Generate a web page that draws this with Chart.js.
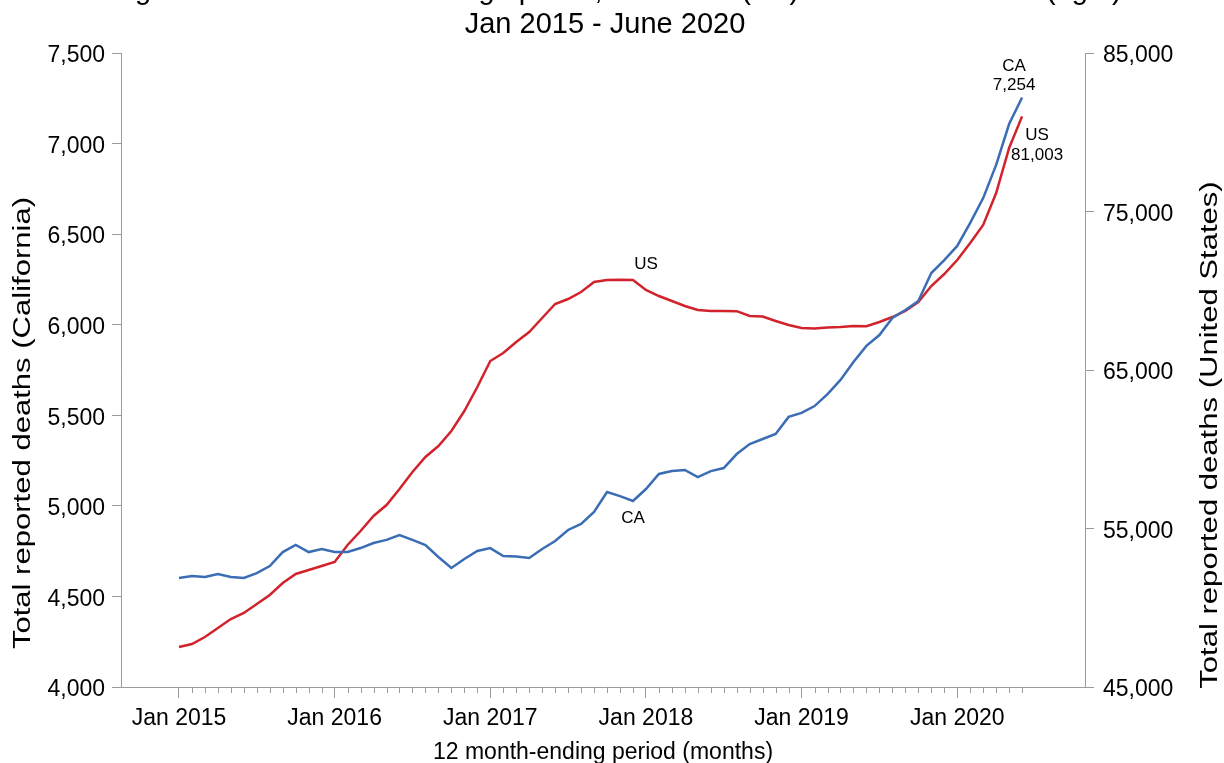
<!DOCTYPE html>
<html>
<head>
<meta charset="utf-8">
<script src="https://cdn.jsdelivr.net/npm/chart.js@4.4.0/dist/chart.umd.min.js"></script>
<style>
  html, body { margin: 0; padding: 0; background: #fff; }
  #wrap { width: 1224px; height: 763px; position: relative; }
</style>
</head>
<body>
<div id="wrap"><canvas id="chart"></canvas></div>
<script>
// 12 month-ending periods, Jan 2015 .. Jun 2020
const monthNames = ['Jan', 'Feb', 'Mar', 'Apr', 'May', 'Jun', 'Jul', 'Aug', 'Sep', 'Oct', 'Nov', 'Dec'];
const years = [2015, 2016, 2017, 2018, 2019, 2020];
const months = [];
years.forEach(y => monthNames.forEach(m => months.push(m + ' ' + y)));
months.length = 66;

const xTickLabels = ['Jan 2015', 'Jan 2016', 'Jan 2017', 'Jan 2018', 'Jan 2019', 'Jan 2020'];

const caDeaths = [
  4602, 4613, 4607, 4624, 4607, 4602, 4629, 4668, 4745, 4784, 4745, 4762,
  4745, 4745, 4767, 4795, 4812, 4839, 4812, 4784, 4718, 4657, 4707, 4751,
  4767, 4723, 4720, 4712, 4762, 4806, 4867, 4900, 4966, 5076, 5054, 5027,
  5093, 5176, 5192, 5198, 5159, 5192, 5209, 5286, 5341, 5369, 5397, 5491,
  5513, 5551, 5617, 5695, 5794, 5883, 5943, 6037, 6081, 6131, 6285, 6357,
  6435, 6562, 6699, 6882, 7108, 7254
];
const usDeaths = [
  47524, 47713, 48155, 48722, 49290, 49669, 50236, 50804, 51561, 52129, 52382, 52634,
  52886, 53959, 54842, 55788, 56482, 57492, 58564, 59511, 60205, 61151, 62413, 63927,
  65567, 66072, 66766, 67397, 68280, 69163, 69479, 69921, 70551, 70678, 70700, 70680,
  70047, 69668, 69353, 69037, 68785, 68722, 68722, 68710, 68406, 68375, 68091, 67839,
  67649, 67617, 67680, 67712, 67775, 67760, 68028, 68343, 68722, 69290, 70299, 71056,
  71939, 73012, 74148, 76166, 79006, 81003
];

const titleLines = [
  'Drug overdose deaths involving opioids, California (left) and United States (right)',
  'Jan 2015 - June 2020'
];
const yTitleCA = 'Total reported deaths (California)';
const yTitleUS = 'Total reported deaths (United States)';

const FONT = '"Liberation Sans", Arial, Helvetica, sans-serif';
const AXIS = '#9b9b9b';
const BLUE = '#3b6db5';
const RED = '#d2232c';

const toPoints = arr => arr.map((v, i) => ({ x: i, y: v }));
const fmt = v => v.toLocaleString('en-US');

// rotated axis title, stretched along its length like the original
function sideTitle(ctx, text, cx, cy, rot) {
  ctx.save();
  ctx.translate(cx, cy);
  ctx.rotate(rot);
  ctx.scale(1.35, 1);
  ctx.textAlign = 'center';
  ctx.textBaseline = 'middle';
  ctx.fillText(text, 0, 0);
  ctx.restore();
}

// title, minor month ticks, side titles and the in-chart labels
const extras = {
  id: 'extras',
  afterDraw(chart) {
    const { ctx, chartArea, scales: { x, yCA, yUS } } = chart;
    ctx.save();

    ctx.fillStyle = '#000';
    ctx.textAlign = 'center';
    ctx.textBaseline = 'alphabetic';
    ctx.font = '29px ' + FONT;
    ctx.fillText(titleLines[0], 605, -1);
    ctx.fillText(titleLines[1], 605, 33);

    ctx.font = '23px ' + FONT;
    const midY = (chartArea.top + chartArea.bottom) / 2;
    sideTitle(ctx, yTitleCA, 24, midY + 53, -Math.PI / 2);
    sideTitle(ctx, yTitleUS, 1211, midY + 65, -Math.PI / 2);

    // minor ticks, one per month
    ctx.strokeStyle = AXIS;
    ctx.lineWidth = 1;
    const base = chartArea.bottom;
    months.forEach((m, i) => {
      if (i % 12 === 0) return;
      const px = Math.round(x.getPixelForValue(i)) + 0.5;
      ctx.beginPath();
      ctx.moveTo(px, base);
      ctx.lineTo(px, base + 6);
      ctx.stroke();
    });

    ctx.font = '17px ' + FONT;
    ctx.textBaseline = 'middle';
    const last = months.length - 1;
    const caX = x.getPixelForValue(last), caY = yCA.getPixelForValue(caDeaths[last]);
    ctx.fillText('CA', caX - 8, caY - 31);
    ctx.fillText(fmt(caDeaths[last]), caX - 8, caY - 12);
    const usX = x.getPixelForValue(last), usY = yUS.getPixelForValue(usDeaths[last]);
    ctx.fillText('US', usX + 15, usY + 19);
    ctx.fillText(fmt(usDeaths[last]), usX + 15, usY + 39);

    ctx.fillText('US', x.getPixelForValue(36), yUS.getPixelForValue(usDeaths[36]) - 26);
    ctx.fillText('CA', x.getPixelForValue(35), yCA.getPixelForValue(caDeaths[35]) + 17);
    ctx.restore();
  }
};

new Chart(document.getElementById('chart'), {
  type: 'line',
  data: {
    datasets: [
      {
        label: 'CA',
        data: toPoints(caDeaths),
        yAxisID: 'yCA',
        borderColor: BLUE,
        borderWidth: 2.5,
        pointRadius: 0,
        tension: 0
      },
      {
        label: 'US',
        data: toPoints(usDeaths),
        yAxisID: 'yUS',
        borderColor: RED,
        borderWidth: 2.5,
        pointRadius: 0,
        tension: 0
      }
    ]
  },
  options: {
    responsive: true,
    maintainAspectRatio: false,
    animation: false,
    devicePixelRatio: 1,
    layout: { padding: { top: 53, left: 0, right: 0, bottom: 0 } },
    plugins: {
      legend: { display: false },
      title: { display: false },
      tooltip: { enabled: false }
    },
    scales: {
      x: {
        type: 'linear',
        min: -4.47,
        max: 69.85,
        afterBuildTicks: s => { s.ticks = months.map((m, i) => ({ value: i })); },
        afterFit: s => { s.height = 76; },
        border: { color: AXIS, width: 1 },
        grid: {
          drawOnChartArea: false,
          tickLength: 11,
          color: c => (c.tick && c.tick.value % 12 === 0 ? AXIS : 'rgba(0,0,0,0)')
        },
        ticks: {
          autoSkip: false,
          maxRotation: 0,
          padding: 7,
          color: '#000',
          font: { family: FONT, size: 23 },
          callback: v => (v % 12 === 0 ? xTickLabels[v / 12] : '')
        },
        title: {
          display: true,
          text: '12 month-ending period (months)',
          color: '#000',
          font: { family: FONT, size: 23 },
          padding: { top: 0, bottom: -3 }
        }
      },
      yCA: {
        type: 'linear',
        position: 'left',
        min: 4000,
        max: 7500,
        afterFit: s => { s.width = 121; },
        border: { color: AXIS, width: 1 },
        grid: { drawOnChartArea: false, tickLength: 9, color: AXIS },
        ticks: {
          stepSize: 500,
          padding: 7,
          labelOffset: 3,
          color: '#000',
          font: { family: FONT, size: 23 },
          callback: v => fmt(v)
        }
      },
      yUS: {
        type: 'linear',
        position: 'right',
        min: 45000,
        max: 85000,
        afterFit: s => { s.width = 139; },
        border: { color: AXIS, width: 1 },
        grid: { drawOnChartArea: false, tickLength: 9, color: AXIS },
        ticks: {
          stepSize: 10000,
          padding: 9,
          labelOffset: 3,
          color: '#000',
          font: { family: FONT, size: 23 },
          callback: v => fmt(v)
        }
      }
    }
  },
  plugins: [extras]
});
</script>
</body>
</html>
